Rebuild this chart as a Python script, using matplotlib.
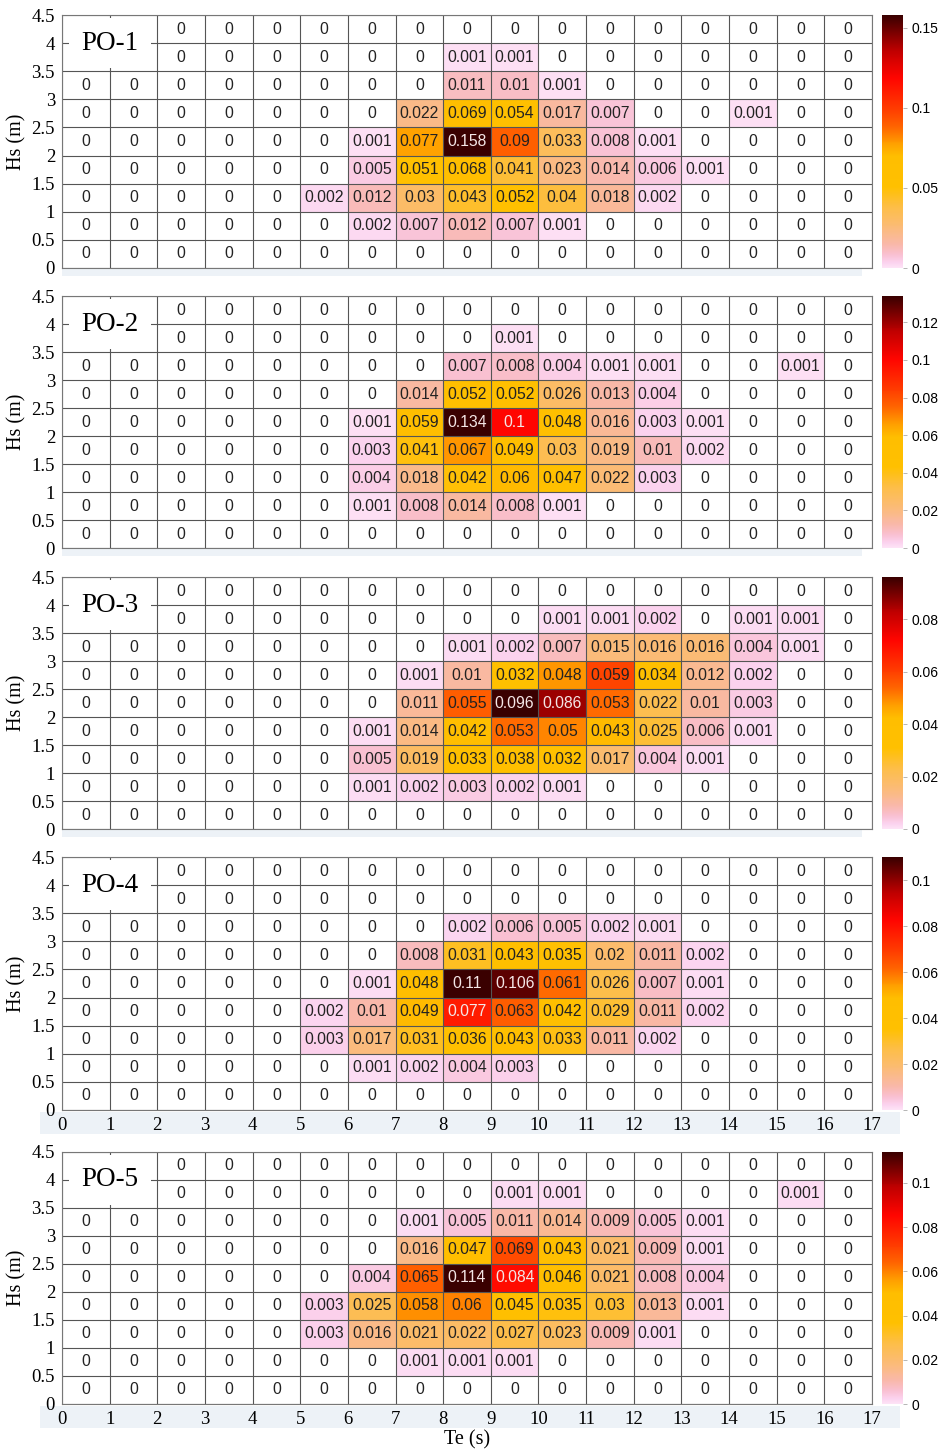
import numpy as np
import matplotlib
matplotlib.use("Agg")
import matplotlib.pyplot as plt
from matplotlib.colors import LinearSegmentedColormap
from matplotlib.patches import Rectangle

# ---------------------------------------------------------------------------
# Data: joint probability of (Te, Hs); rows go from Hs 4-4.5 (top) to 0-0.5
# B marks the blank cells hidden behind the panel label
# ---------------------------------------------------------------------------
B = None
panel_names = ['PO-1', 'PO-2', 'PO-3', 'PO-4', 'PO-5']

po1 = [
    [B, B, 0, 0, 0, 0, 0, 0, 0, 0, 0, 0, 0, 0, 0, 0, 0],
    [B, B, 0, 0, 0, 0, 0, 0, 0.001, 0.001, 0, 0, 0, 0, 0, 0, 0],
    [0, 0, 0, 0, 0, 0, 0, 0, 0.011, 0.01, 0.001, 0, 0, 0, 0, 0, 0],
    [0, 0, 0, 0, 0, 0, 0, 0.022, 0.069, 0.054, 0.017, 0.007, 0, 0, 0.001, 0, 0],
    [0, 0, 0, 0, 0, 0, 0.001, 0.077, 0.158, 0.09, 0.033, 0.008, 0.001, 0, 0, 0, 0],
    [0, 0, 0, 0, 0, 0, 0.005, 0.051, 0.068, 0.041, 0.023, 0.014, 0.006, 0.001, 0, 0, 0],
    [0, 0, 0, 0, 0, 0.002, 0.012, 0.03, 0.043, 0.052, 0.04, 0.018, 0.002, 0, 0, 0, 0],
    [0, 0, 0, 0, 0, 0, 0.002, 0.007, 0.012, 0.007, 0.001, 0, 0, 0, 0, 0, 0],
    [0, 0, 0, 0, 0, 0, 0, 0, 0, 0, 0, 0, 0, 0, 0, 0, 0],
]

po2 = [
    [B, B, 0, 0, 0, 0, 0, 0, 0, 0, 0, 0, 0, 0, 0, 0, 0],
    [B, B, 0, 0, 0, 0, 0, 0, 0, 0.001, 0, 0, 0, 0, 0, 0, 0],
    [0, 0, 0, 0, 0, 0, 0, 0, 0.007, 0.008, 0.004, 0.001, 0.001, 0, 0, 0.001, 0],
    [0, 0, 0, 0, 0, 0, 0, 0.014, 0.052, 0.052, 0.026, 0.013, 0.004, 0, 0, 0, 0],
    [0, 0, 0, 0, 0, 0, 0.001, 0.059, 0.134, 0.1, 0.048, 0.016, 0.003, 0.001, 0, 0, 0],
    [0, 0, 0, 0, 0, 0, 0.003, 0.041, 0.067, 0.049, 0.03, 0.019, 0.01, 0.002, 0, 0, 0],
    [0, 0, 0, 0, 0, 0, 0.004, 0.018, 0.042, 0.06, 0.047, 0.022, 0.003, 0, 0, 0, 0],
    [0, 0, 0, 0, 0, 0, 0.001, 0.008, 0.014, 0.008, 0.001, 0, 0, 0, 0, 0, 0],
    [0, 0, 0, 0, 0, 0, 0, 0, 0, 0, 0, 0, 0, 0, 0, 0, 0],
]

po3 = [
    [B, B, 0, 0, 0, 0, 0, 0, 0, 0, 0, 0, 0, 0, 0, 0, 0],
    [B, B, 0, 0, 0, 0, 0, 0, 0, 0, 0.001, 0.001, 0.002, 0, 0.001, 0.001, 0],
    [0, 0, 0, 0, 0, 0, 0, 0, 0.001, 0.002, 0.007, 0.015, 0.016, 0.016, 0.004, 0.001, 0],
    [0, 0, 0, 0, 0, 0, 0, 0.001, 0.01, 0.032, 0.048, 0.059, 0.034, 0.012, 0.002, 0, 0],
    [0, 0, 0, 0, 0, 0, 0, 0.011, 0.055, 0.096, 0.086, 0.053, 0.022, 0.01, 0.003, 0, 0],
    [0, 0, 0, 0, 0, 0, 0.001, 0.014, 0.042, 0.053, 0.05, 0.043, 0.025, 0.006, 0.001, 0, 0],
    [0, 0, 0, 0, 0, 0, 0.005, 0.019, 0.033, 0.038, 0.032, 0.017, 0.004, 0.001, 0, 0, 0],
    [0, 0, 0, 0, 0, 0, 0.001, 0.002, 0.003, 0.002, 0.001, 0, 0, 0, 0, 0, 0],
    [0, 0, 0, 0, 0, 0, 0, 0, 0, 0, 0, 0, 0, 0, 0, 0, 0],
]

po4 = [
    [B, B, 0, 0, 0, 0, 0, 0, 0, 0, 0, 0, 0, 0, 0, 0, 0],
    [B, B, 0, 0, 0, 0, 0, 0, 0, 0, 0, 0, 0, 0, 0, 0, 0],
    [0, 0, 0, 0, 0, 0, 0, 0, 0.002, 0.006, 0.005, 0.002, 0.001, 0, 0, 0, 0],
    [0, 0, 0, 0, 0, 0, 0, 0.008, 0.031, 0.043, 0.035, 0.02, 0.011, 0.002, 0, 0, 0],
    [0, 0, 0, 0, 0, 0, 0.001, 0.048, 0.11, 0.106, 0.061, 0.026, 0.007, 0.001, 0, 0, 0],
    [0, 0, 0, 0, 0, 0.002, 0.01, 0.049, 0.077, 0.063, 0.042, 0.029, 0.011, 0.002, 0, 0, 0],
    [0, 0, 0, 0, 0, 0.003, 0.017, 0.031, 0.036, 0.043, 0.033, 0.011, 0.002, 0, 0, 0, 0],
    [0, 0, 0, 0, 0, 0, 0.001, 0.002, 0.004, 0.003, 0, 0, 0, 0, 0, 0, 0],
    [0, 0, 0, 0, 0, 0, 0, 0, 0, 0, 0, 0, 0, 0, 0, 0, 0],
]

po5 = [
    [B, B, 0, 0, 0, 0, 0, 0, 0, 0, 0, 0, 0, 0, 0, 0, 0],
    [B, B, 0, 0, 0, 0, 0, 0, 0, 0.001, 0.001, 0, 0, 0, 0, 0.001, 0],
    [0, 0, 0, 0, 0, 0, 0, 0.001, 0.005, 0.011, 0.014, 0.009, 0.005, 0.001, 0, 0, 0],
    [0, 0, 0, 0, 0, 0, 0, 0.016, 0.047, 0.069, 0.043, 0.021, 0.009, 0.001, 0, 0, 0],
    [0, 0, 0, 0, 0, 0, 0.004, 0.065, 0.114, 0.084, 0.046, 0.021, 0.008, 0.004, 0, 0, 0],
    [0, 0, 0, 0, 0, 0.003, 0.025, 0.058, 0.06, 0.045, 0.035, 0.03, 0.013, 0.001, 0, 0, 0],
    [0, 0, 0, 0, 0, 0.003, 0.016, 0.021, 0.022, 0.027, 0.023, 0.009, 0.001, 0, 0, 0, 0],
    [0, 0, 0, 0, 0, 0, 0, 0.001, 0.001, 0.001, 0, 0, 0, 0, 0, 0, 0],
    [0, 0, 0, 0, 0, 0, 0, 0, 0, 0, 0, 0, 0, 0, 0, 0, 0],
]

panels = [po1, po2, po3, po4, po5]

te_edges = np.arange(0, 18)                 # Te (s) 0..17
hs_edges = np.arange(0, 4.51, 0.5)          # Hs (m) 0..4.5
y_ticklabels = ['0', '0.5', '1', '1.5', '2', '2.5', '3', '3.5', '4', '4.5']

cbar_ticks = [
    [0, 0.05, 0.1, 0.15],
    [0, 0.02, 0.04, 0.06, 0.08, 0.1, 0.12],
    [0, 0.02, 0.04, 0.06, 0.08],
    [0, 0.02, 0.04, 0.06, 0.08, 0.1],
    [0, 0.02, 0.04, 0.06, 0.08, 0.1],
]

# ---------------------------------------------------------------------------
# colormap (pink -> salmon -> gold -> orange -> red -> dark red)
# ---------------------------------------------------------------------------
cmap = LinearSegmentedColormap.from_list('pinkhot', [
    (0.00, '#fde2f6'), (0.02, '#fbd2ee'), (0.05, '#f9c0d2'),
    (0.09, '#f9b8aa'), (0.16, '#fbbb78'), (0.24, '#fdbe48'),
    (0.32, '#ffc000'), (0.44, '#ffbe00'), (0.49, '#ffa000'),
    (0.56, '#ff6400'), (0.63, '#ff3c00'), (0.75, '#ff0500'),
    (0.86, '#c00000'), (1.00, '#3a0000')])
cmap.set_bad('white')

serif = 'Liberation Serif'
sans = 'Liberation Sans'

W, H = 941, 1450
fig = plt.figure(figsize=(W / 100, H / 100), dpi=100)

# panel extents in pixels (top, bottom)
px_rows = [(15, 268), (296, 548), (577, 829), (857, 1110), (1152, 1404)]
ax_left, ax_right = 62, 872
cb_left, cb_w = 882, 21


def fmt(v):
    if v == 0:
        return '0'
    return ('%.3f' % v).rstrip('0').rstrip('.')


for k, (rows, name) in enumerate(zip(panels, panel_names)):
    top, bot = px_rows[k]
    ax = fig.add_axes([ax_left / W, 1 - bot / H, (ax_right - ax_left) / W, (bot - top) / H])

    arr = np.array([[np.nan if v is None else v for v in r] for r in rows], dtype=float)[::-1]
    vmax = np.nanmax(arr)
    masked = np.ma.masked_where(~(arr > 0), arr)
    mesh = ax.pcolormesh(te_edges, hs_edges, masked, cmap=cmap, vmin=0, vmax=vmax)

    # cell grid
    for x in te_edges:
        ax.axvline(x, color='#555555', lw=0.8, zorder=2)
    for y in hs_edges:
        ax.axhline(y, color='#555555', lw=0.8, zorder=2)

    # cell values
    for i in range(arr.shape[0]):
        for j in range(arr.shape[1]):
            v = arr[i, j]
            if np.isnan(v):
                continue
            col = '#f4e6e6' if v / vmax >= 0.65 else '#222222'
            ax.text(te_edges[j] + 0.5, hs_edges[i] + 0.25, fmt(v), ha='center', va='center',
                    fontsize=11.3, family=sans, color=col, zorder=3)

    # panel label covering the blank corner
    ax.text(1.0, 4.0, name, ha='center', va='center', fontsize=19.5, family=serif, zorder=4,
            bbox=dict(facecolor='white', edgecolor='none', pad=9))

    ax.set_xlim(0, 17)
    ax.set_ylim(0, 4.5)
    ax.set_yticks(hs_edges)
    ax.set_yticklabels(y_ticklabels, family=serif, fontsize=13.5)
    ax.tick_params(axis='y', length=0, pad=5)
    if k >= 3:
        ax.set_xticks(te_edges)
        ax.set_xticklabels([str(t) for t in te_edges], family=serif, fontsize=13.5)
        ax.tick_params(axis='x', length=0, pad=5)
        band = Rectangle((40 / W, 1 - (bot + 24) / H), 860 / W, 22 / H,
                         transform=fig.transFigure, facecolor='#edf2f7', edgecolor='none', zorder=-1)
    else:
        ax.set_xticks([])
        band = Rectangle((ax_left / W, 1 - (bot + 8) / H), 800 / W, 8 / H,
                         transform=fig.transFigure, facecolor='#edf2f7', edgecolor='none', zorder=-1)
    fig.add_artist(band)
    for s in ax.spines.values():
        s.set_color('#777777')
        s.set_linewidth(0.8)
    ax.set_ylabel('Hs (m)', family=serif, fontsize=14.5, labelpad=4)
    if k == 4:
        ax.set_xlabel('Te (s)', family=serif, fontsize=14.5, labelpad=2)

    # colorbar
    cax = fig.add_axes([cb_left / W, 1 - bot / H, cb_w / W, (bot - top) / H])
    cb = fig.colorbar(mesh, cax=cax, ticks=cbar_ticks[k])
    cb.ax.set_yticklabels([fmt(t) for t in cbar_ticks[k]], family=sans, fontsize=10)
    cb.ax.tick_params(length=3, width=0.6, color='#aaaaaa', pad=3)
    cb.outline.set_visible(False)

fig.savefig('out.png', dpi=100)
